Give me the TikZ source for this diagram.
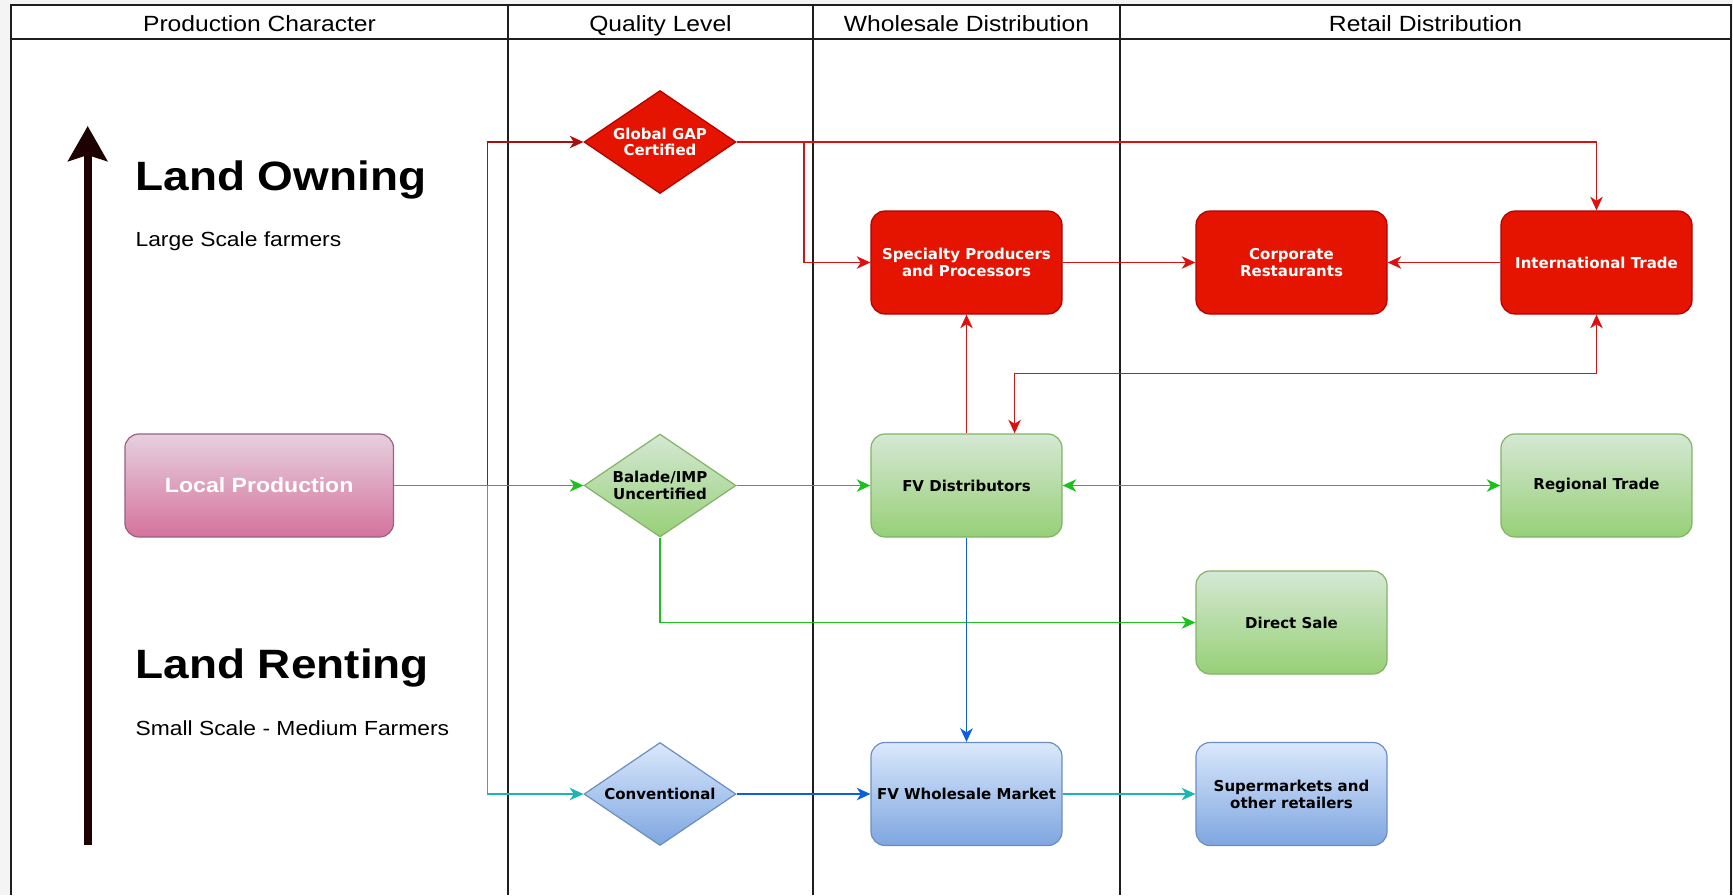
\documentclass[tikz,border=0pt]{standalone}
\usepackage{fontspec}
\setmainfont{Liberation Sans}[FakeStretch=1.12]
\newfontfamily\dv{DejaVu Sans}
\usetikzlibrary{arrows.meta,shapes.geometric}
\definecolor{bggrey}{HTML}{F4F4F4}
\definecolor{framec}{HTML}{1E1E1E}
\definecolor{rfill}{HTML}{E51400}
\definecolor{rline}{HTML}{B20000}
\definecolor{redc}{HTML}{DD1010}
\definecolor{dredc}{HTML}{A81010}
\definecolor{p1}{HTML}{E6D0DE}
\definecolor{p2}{HTML}{D5739D}
\definecolor{p3}{HTML}{996185}
\definecolor{g1}{HTML}{D5E8D4}
\definecolor{g2}{HTML}{97D077}
\definecolor{g3}{HTML}{82B366}
\definecolor{b1}{HTML}{DAE8FC}
\definecolor{b2}{HTML}{7EA6E0}
\definecolor{b3}{HTML}{6C8EBF}
\definecolor{greenc}{HTML}{1CC21C}
\definecolor{bluec}{HTML}{0B5FE0}
\definecolor{tealc}{HTML}{1AB5B5}
\definecolor{arrc}{HTML}{1E0202}
\begin{document}
\begin{tikzpicture}[x=0.5pt,y=-0.5pt,
  framel/.style={draw=framec, line width=1pt},
  hdr/.style={anchor=base, font=\fontsize{11}{13}\selectfont},
  bigt/.style={anchor=base west, font=\fontsize{20.5}{24}\selectfont\bfseries},
  subt/.style={anchor=base west, font=\fontsize{10.2}{12}\selectfont},
  nodefont/.style={font=\dv\bfseries\fontsize{7.5}{8.4}\selectfont},
  boxn/.style={rectangle, rounded corners=7pt, minimum width=95.5pt, minimum height=51.5pt,
    inner sep=2pt, align=center, line width=0.6pt, nodefont},
  dian/.style={diamond, shape aspect=1.476, minimum width=76pt, minimum height=51.5pt, inner sep=0pt,
    align=center, line width=0.6pt, nodefont},
  redn/.style={fill=rfill, draw=rline, text=white},
  greenn/.style={top color=g1, bottom color=g2, draw=g3, text=black},
  bluen/.style={top color=b1, bottom color=b2, draw=b3, text=black},
  pinkn/.style={top color=p1, bottom color=p2, draw=p3, text=white},
  tip/.style={-{Stealth[length=6.8pt,width=6.2pt,inset=2pt]}},
  tips/.style={{Stealth[length=6.8pt,width=6.2pt,inset=2pt]}-{Stealth[length=6.8pt,width=6.2pt,inset=2pt]}},
  conn/.style={line width=0.8pt},
]
% background and frame
\fill[bggrey] (0,0) rectangle (1733,895);
\fill[white] (11,5) rectangle (1731,895);
\path[use as bounding box] (0,0) rectangle (1733,895);
\draw[framel] (11,895) -- (11,5) -- (1731,5) -- (1731,895);
\draw[framel] (11,39) -- (1731,39);
\draw[framel] (508,5) -- (508,895);
\draw[framel] (813,5) -- (813,895);
\draw[framel] (1120,5) -- (1120,895);

% headers
\node[hdr] (h1) at (259.5,31) {Production Character};
\node[hdr] (h2) at (660.5,31) {Quality Level};
\node[hdr] (h3) at (966.5,31) {Wholesale Distribution};
\node[hdr] (h4) at (1425.5,31) {Retail Distribution};

% left texts
\node[bigt] (lo) at (128.5,190) {Land Owning};
\node[subt] (ls) at (128.5,246.5) {Large Scale farmers};
\node[bigt] (lr) at (128.5,678) {Land Renting};
\node[subt] (ss) at (128.5,735) {Small Scale - Medium Farmers};

% big up arrow
\coordinate (ab) at (87.7,845);
\coordinate (at) at (87.7,126);
\draw[arrc, line width=4pt, -{Stealth[length=17.5pt,width=19.5pt,inset=3pt]}] (ab) -- (at);

% nodes
\node[dian, redn] (gap) at (660,142) {Global GAP\\Certified};
\node[boxn, redn] (spec) at (966.5,262.5) {Specialty Producers\\and Processors};
\node[boxn, redn] (corp) at (1291.5,262.5) {Corporate\\Restaurants};
\node[boxn, redn] (intl) at (1596.5,262.5) {International Trade};
\node[boxn, pinkn, minimum width=134.3pt, font=\fontsize{10.3}{12}\selectfont\bfseries] (lp) at (259.2,485.5) {Local Production};
\node[dian, greenn] (bal) at (660,485.5) {Balade/IMP\\Uncertified};
\node[boxn, greenn] (fvd) at (966.5,485.5) {FV Distributors};
\node[boxn, greenn] (reg) at (1596.5,485.5) {Regional Trade};
\node[boxn, greenn] (ds) at (1291.5,622.5) {Direct Sale};
\node[dian, bluen] (conv) at (660,794) {Conventional};
\node[boxn, bluen] (fvw) at (966.5,794) {FV Wholesale Market};
\node[boxn, bluen] (sup) at (1291.5,794) {Supermarkets and\\other retailers};

% helper coordinates
\coordinate (split) at (487.4,485.5);
\coordinate (gapbr) at (804,142);
\coordinate (mid) at (1014.6,373.6);

% red connectors
\draw[conn, dredc, tip] (lp.east) -- (split) |- (gap.west);
\draw[conn, redc, tip] (gap.east) -| (intl.north);
\draw[conn, redc, tip] (gap.east) -- (gapbr) |- (spec.west);
\draw[conn, redc, tip] (spec.east) -- (corp.west);
\draw[conn, redc, tip] (intl.west) -- (corp.east);
\draw[conn, redc, tip] (fvd.north) -- (spec.south);
\draw[conn, redc, tips] (intl.south) |- (mid) -- (mid |- fvd.north);

% green connectors
\draw[conn, greenc, tip] (lp.east) -- (bal.west);
\draw[conn, greenc, tip] (bal.east) -- (fvd.west);
\draw[conn, greenc, tips] (fvd.east) -- (reg.west);
\draw[conn, greenc, tip] (bal.south) |- (ds.west);

% blue connectors
\draw[conn, bluec, tip] (fvd.south) -- (fvw.north);
\draw[conn, bluec, tip] (conv.east) -- (fvw.west);

% teal connectors
\draw[conn, tealc, tip] (split) |- (conv.west);
\draw[conn, tealc, tip] (fvw.east) -- (sup.west);
\end{tikzpicture}
\end{document}
